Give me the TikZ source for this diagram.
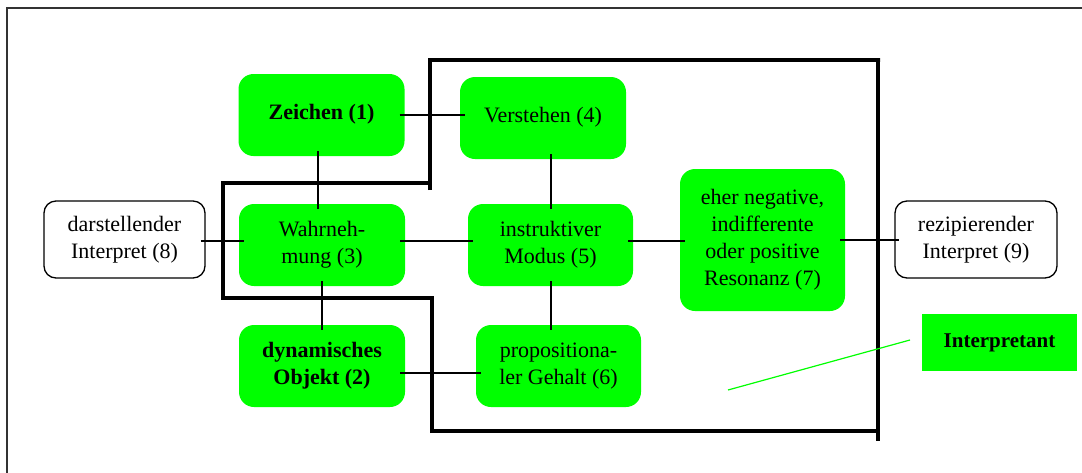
\documentclass[tikz,border=0pt]{standalone}
\usepackage{fontspec}
\setmainfont{Liberation Serif}
\definecolor{brightgreen}{HTML}{00FF00}
\begin{document}
\begin{tikzpicture}[x=1pt,y=-1pt,
  gbox/.style={fill=brightgreen, rounded corners=15pt, minimum width=#1, minimum height=82pt, align=center, inner sep=0pt, font=\fontsize{22}{27}\selectfont},
  gbox/.default=166pt,
  wbox/.style={draw=black, line width=1.3pt, fill=white, rounded corners=12pt, minimum width=161pt, minimum height=77pt, align=center, inner sep=0pt, font=\fontsize{22}{27}\selectfont},
  conn/.style={line width=1.2pt, shorten <=-5pt, shorten >=-5pt},
  thick frame/.style={line width=4pt},
  outer/.style={line width=1.3pt, draw=black!80}]
\useasboundingbox (0,0) rectangle (1082,472);
\fill[white] (0,0) rectangle (1082,472);
\draw[outer] (7,490) -- (7,8) -- (1100,8);
% thick enclosing polyline
\draw[thick frame] (430,190) -- (430,60) -- (880,60) -- (878,60) -- (878,441);
\draw[thick frame] (432,433) -- (432,298) -- (223,298) -- (223,183) -- (430,183);
\draw[thick frame] (432,431) -- (878,431);
% nodes
\node[gbox] (Z) at (321.5,115) {\raisebox{7pt}{\textbf{Zeichen (1)}}};
\node[gbox] (V) at (543,118) {\raisebox{6pt}{Verstehen (4)}};
\node[gbox] (W) at (322,245) {Wahrneh-\\mung (3)};
\node[gbox=165pt] (M) at (550.5,245) {instruktiver\\Modus (5)};
\node[gbox=165pt, minimum height=142pt] (R) at (762.5,240) {eher negative,\\indifferente\\oder positive\\Resonanz (7)};
\node[wbox] (D) at (124.5,239.5) {darstellender\\Interpret (8)};
\node[wbox, minimum width=162pt] (Rz) at (976,239.5) {rezipierender\\Interpret (9)};
\node[gbox] (O) at (322,366) {\textbf{dynamisches}\\\textbf{Objekt (2)}};
\node[gbox=165pt] (P) at (558.5,366) {propositiona-\\ler Gehalt (6)};
\node[fill=brightgreen, minimum width=155pt, minimum height=57pt, inner sep=0pt, font=\fontsize{21}{25}\selectfont\bfseries] (I) at (999.5,342.5) {Interpretant};
% connectors
\draw[conn] (Z.east) -- (Z.east -| V.west);
\draw[conn] (Z.south -| 318,0) -- (W.north -| 318,0);
\draw[conn] (V.south -| 551,0) -- (M.north -| 551,0);
\draw[conn] (D.east |- 0,241) -- (W.west |- 0,241);
\draw[conn] (W.east |- 0,241) -- (M.west |- 0,241);
\draw[conn] (M.east |- 0,241) -- (R.west |- 0,241);
\draw[conn] (R.east |- 0,240) -- (Rz.west |- 0,240);
\draw[conn] (W.south -| 322,0) -- (O.north -| 322,0);
\draw[conn] (M.south -| 551,0) -- (P.north -| 551,0);
\draw[conn] (O.east |- 0,373) -- (P.west |- 0,373);
\coordinate (g1) at (728,390);
\coordinate (g2) at (910,340);
\draw[brightgreen, line width=1.2pt] (g1) -- (g2);
\end{tikzpicture}
\end{document}
